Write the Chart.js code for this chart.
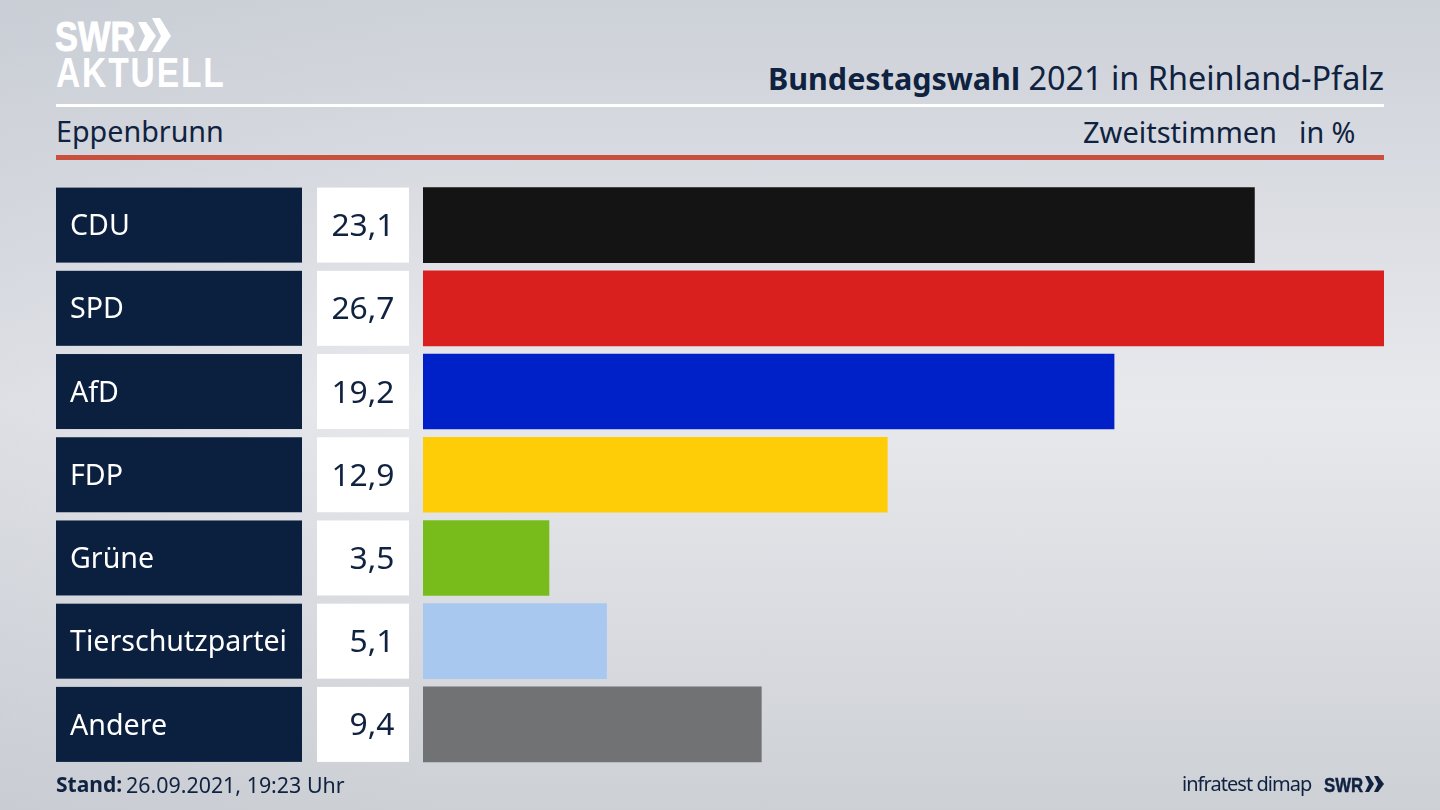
<!DOCTYPE html>
<html lang="de">
<head>
<meta charset="UTF-8">
<title>Bundestagswahl 2021 in Rheinland-Pfalz</title>
<script src="https://cdn.jsdelivr.net/npm/chart.js"></script>
<style>
    html, body { margin: 0; padding: 0; }
    body {
        width: 1440px; height: 810px; overflow: hidden; position: relative;
        font-family: "Noto Sans", sans-serif; color: #0f2240;
        background: linear-gradient(90deg, rgba(190,195,205,0.25), rgba(190,195,205,0) 30%),
                    linear-gradient(#cdd1d8 0%, #e8e9ed 50%, #cdd0d5 100%);
    }
    canvas { position: absolute; left: 0; top: 0; }
    .txt { position: absolute; white-space: nowrap; line-height: 1; }
    .logo { font-family: "Liberation Sans"; font-weight: bold; transform: scaleX(0.8); transform-origin: left top; }
    .rule { position: absolute; left: 56px; width: 1328px; }
</style>
</head>
<body>
    <div class="txt logo" style="left:55px;top:15px;font-size:43px;color:#fff;-webkit-text-stroke:1px #fff;">SWR</div>
    <svg style="position:absolute;left:138px;top:18px" width="33" height="35">
        <polygon fill="#fff" points="0,4 8,4 18,18 8,33 0,33 7,18"/>
        <polygon fill="#fff" points="14,0 22,0 33,18 22,34 14,34 23,18"/>
    </svg>
    <div class="txt logo" style="left:56px;top:51.5px;font-size:42px;color:#fff;letter-spacing:2.3px;">AKTUELL</div>

    <div class="txt" style="right:56px;top:61px;font-size:32.4px;"><b style="font-size:30.5px">Bundestagswahl</b> 2021 in Rheinland-Pfalz</div>
    <div class="rule" style="top:104px;height:3px;background:#fff;"></div>
    <div class="txt" style="left:56px;top:117px;font-size:28.7px;">Eppenbrunn</div>
    <div class="txt" style="left:1083px;top:117px;font-size:29px;">Zweitstimmen</div>
    <div class="txt" style="left:1299px;top:118px;font-size:28.7px;">in %</div>
    <div class="rule" style="top:155px;height:5px;background:#c9503e;"></div>

    <canvas id="grafico" width="1440" height="810"></canvas>

    <div class="txt" style="left:56px;top:774px;font-size:21px;font-weight:bold;">Stand:</div>
    <div class="txt" style="left:126px;top:774px;font-size:21.4px;">26.09.2021, 19:23 Uhr</div>
    <div class="txt" style="left:1182px;top:774px;font-size:20px;letter-spacing:-0.95px;">infratest dimap</div>
    <div class="txt logo" style="left:1324px;top:774px;font-size:21px;-webkit-text-stroke:0.5px #0f2240;">SWR</div>
    <svg style="position:absolute;left:1365px;top:776px" width="20" height="17">
        <polygon fill="#0f2240" points="0,0 4,0 9,8 4,16 0,16 4,8"/>
        <polygon fill="#0f2240" points="9,0 13,0 19,8 13,16 9,16 13,8"/>
    </svg>

    <script>
        const partidos = ['CDU', 'SPD', 'AfD', 'FDP', 'Grüne', 'Tierschutzpartei', 'Andere'];
        const valores = [23.1, 26.7, 19.2, 12.9, 3.5, 5.1, 9.4];
        const etiquetas = ['23,1', '26,7', '19,2', '12,9', '3,5', '5,1', '9,4'];
        const colores = ['#141414', '#d9201f', '#0021c8', '#ffcc08', '#78bc1b', '#a9c8f0', '#717274'];

        // cajas azul y blanca detras de cada fila, y el numero encima
        const cajas = {
            id: 'cajas',
            beforeDraw(chart) {
                const ctx = chart.ctx;
                const y = chart.scales.y;
                partidos.forEach((p, i) => {
                    const py = y.getPixelForValue(i);
                    ctx.fillStyle = '#0b1f3e';
                    ctx.fillRect(56, py - 37.5, 246, 75);
                    ctx.fillStyle = '#ffffff';
                    ctx.fillRect(317, py - 37.5, 92, 75);
                });
            },
            afterDatasetsDraw(chart) {
                const ctx = chart.ctx;
                const y = chart.scales.y;
                ctx.save();
                ctx.font = '31.8px "Noto Sans"';
                ctx.fillStyle = '#0f2240';
                ctx.textAlign = 'right';
                ctx.textBaseline = 'middle';
                etiquetas.forEach((t, i) => ctx.fillText(t, 394.5, y.getPixelForValue(i) + 2));
                ctx.restore();
            }
        };

        new Chart(document.getElementById('grafico'), {
            type: 'bar',
            data: {
                labels: partidos,
                datasets: [{
                    data: valores,
                    backgroundColor: colores,
                    barThickness: 75,
                    borderWidth: 0
                }]
            },
            options: {
                indexAxis: 'y',
                responsive: false,
                animation: false,
                layout: { padding: { left: 70, right: 56, top: 183.5, bottom: 44 } },
                plugins: { legend: { display: false }, tooltip: { enabled: false } },
                scales: {
                    x: { display: false, min: 0, max: 26.7 },
                    y: {
                        afterFit(scale) { scale.width = 353; },
                        border: { display: false },
                        grid: { display: false },
                        ticks: {
                            crossAlign: 'far',
                            padding: 0,
                            labelOffset: 2,
                            color: '#ffffff',
                            font: { family: 'Noto Sans', size: 28.6 }
                        }
                    }
                }
            },
            plugins: [cajas]
        });
    </script>
</body>
</html>
